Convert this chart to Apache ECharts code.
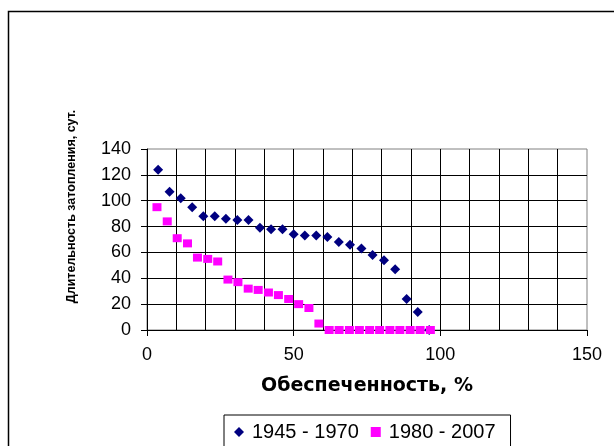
<!DOCTYPE html>
<html>
<head>
<meta charset="utf-8">
<script src="https://cdn.jsdelivr.net/npm/echarts@6/dist/echarts.min.js"></script>
<style>
html,body{margin:0;padding:0;background:#fff;}
#chart{width:614px;height:446px;}
</style>
</head>
<body>
<div id="chart"></div>
<script>
// Series 1945 - 1970
const seriesAName = '1945 - 1970';
const seriesAX = [3.8, 7.7, 11.5, 15.4, 19.2, 23.1, 26.9, 30.8, 34.6, 38.5, 42.3, 46.2, 50.0, 53.8, 57.7, 61.5, 65.4, 69.2, 73.1, 76.9, 80.8, 84.6, 88.5, 92.3, 96.2];
const seriesAY = [124, 107, 102, 95, 88, 88, 86, 85, 85, 79, 78, 78, 74, 73, 73, 72, 68, 66, 63, 58, 54, 47, 24, 14, 0];
// Series 1980 - 2007
const seriesBName = '1980 - 2007';
const seriesBX = [3.4, 6.9, 10.3, 13.8, 17.2, 20.7, 24.1, 27.6, 31.0, 34.5, 37.9, 41.4, 44.8, 48.3, 51.7, 55.2, 58.6, 62.1, 65.5, 69.0, 72.4, 75.9, 79.3, 82.8, 86.2, 89.7, 93.1, 96.6];
const seriesBY = [95, 84, 71, 67, 56, 55, 53, 39, 37, 32, 31, 29, 27, 24, 20, 17, 5, 0, 0, 0, 0, 0, 0, 0, 0, 0, 0, 0];
// Axes
const xTitle = 'Обеспеченность, %';
const yTitle = 'Длительность затопления, сут.';
const xMin = 0, xMax = 150, xStep = 50;
const yMin = 0, yMax = 140, yStep = 20;

const pairs = (xs, ys) => xs.map((x, i) => [x, ys[i]]);

const chart = echarts.init(document.getElementById('chart'), null, {renderer: 'canvas'});
chart.setOption({
  animation: false,
  backgroundColor: '#fff',
  grid: {left: 147, top: 149, right: 27, bottom: 116, show: true, borderColor: '#808080', borderWidth: 1, backgroundColor: '#fff'},
  xAxis: {
    type: 'value', min: xMin, max: xMax, interval: xStep,
    name: xTitle, nameLocation: 'middle', nameGap: 47,
    nameTextStyle: {fontFamily: 'DejaVu Sans', fontWeight: 'bold', fontSize: 19, color: '#000'},
    axisLine: {show: true, onZero: false, lineStyle: {color: '#000', width: 1}},
    axisTick: {show: true, length: 6, lineStyle: {color: '#000'}},
    minorTick: {show: false, splitNumber: 5},
    axisLabel: {fontFamily: 'Liberation Sans', fontSize: 18, color: '#000', margin: 16},
    splitLine: {show: true, showMaxLine: false, showMinLine: false, lineStyle: {color: '#000', width: 1}},
    minorSplitLine: {show: true, lineStyle: {color: '#000', width: 1}}
  },
  yAxis: {
    type: 'value', min: yMin, max: yMax, interval: yStep,
    axisLine: {show: true, onZero: false, lineStyle: {color: '#000', width: 1}},
    axisTick: {show: true, length: 6, lineStyle: {color: '#000'}},
    axisLabel: {fontFamily: 'Liberation Sans', fontSize: 18, color: '#000', margin: 16},
    splitLine: {show: true, showMaxLine: false, showMinLine: false, lineStyle: {color: '#000', width: 1}}
  },
  legend: {
    data: [{name: seriesAName, icon: 'diamond'}, {name: seriesBName, icon: 'rect'}],
    left: 224, top: 415,
    orient: 'horizontal',
    itemWidth: 10, itemHeight: 10, itemGap: 12,
    padding: [7, 15, 7, 10],
    borderColor: '#000', borderWidth: 1, backgroundColor: '#fff',
    textStyle: {fontFamily: 'Liberation Sans', fontSize: 20, color: '#000', padding: [0, 0, 0, 3]}
  },
  graphic: [
    {type: 'rect', silent: true, z: -10, shape: {x: 8.5, y: 11.5, width: 700, height: 600}, style: {fill: 'none', stroke: '#000', lineWidth: 1.5}},
    {type: 'text', x: 71.5, y: 206.5, rotation: Math.PI / 2, style: {text: yTitle, font: 'bold 12.5px "Liberation Sans"', fill: '#000', align: 'center', verticalAlign: 'middle'}}
  ],
  series: [
    {name: seriesAName, type: 'scatter', symbol: 'diamond', symbolSize: [10, 10], itemStyle: {color: '#000080', opacity: 1}, data: pairs(seriesAX, seriesAY), z: 3},
    {name: seriesBName, type: 'scatter', symbol: 'rect', symbolSize: [9, 8], itemStyle: {color: '#FF00FF', opacity: 1}, data: pairs(seriesBX, seriesBY), z: 4}
  ]
});
</script>
</body>
</html>
